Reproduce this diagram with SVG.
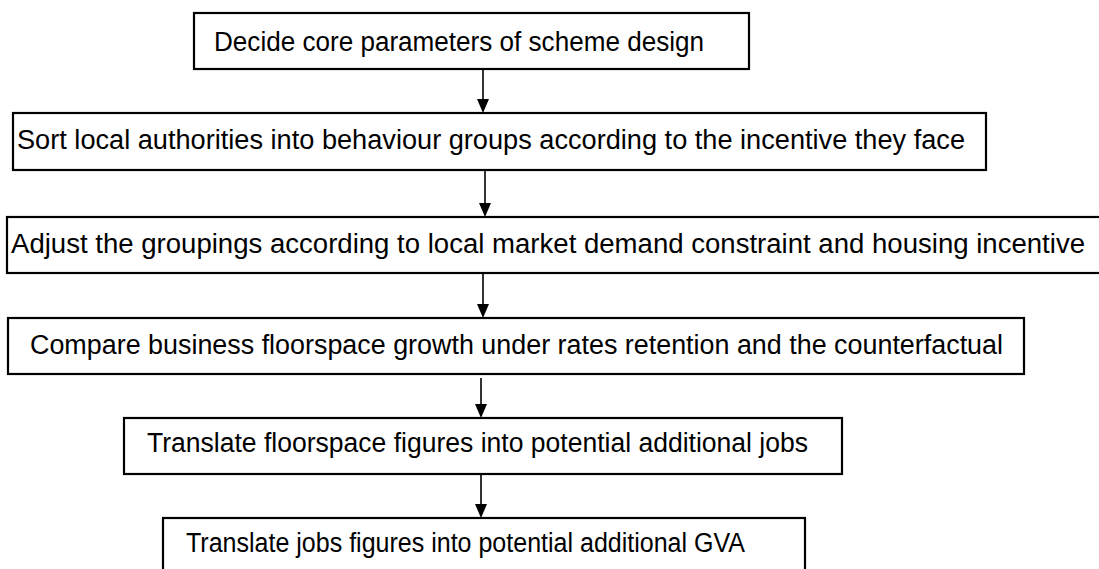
<svg xmlns="http://www.w3.org/2000/svg" width="1099" height="569" viewBox="0 0 1099 569">
  <style>
    .box { fill: #ffffff; stroke: #000000; stroke-width: 2.2; }
    .label { font-family: "Liberation Sans", Arial, sans-serif; font-size: 27px; fill: #000000; }
    .edge { stroke: #000000; stroke-width: 1.6; fill: none; }
    .head { fill: #000000; }
  </style>
  <rect width="1099" height="569" fill="#ffffff"/>

  <!-- connectors: vertical shafts with filled triangular heads -->
  <g id="connectors">
    <line class="edge" x1="483" y1="70" x2="483" y2="99"/>
    <polygon class="head" points="477,99 489,99 483,113"/>
    <line class="edge" x1="485" y1="171" x2="485" y2="203"/>
    <polygon class="head" points="479,203 491,203 485,217"/>
    <line class="edge" x1="483" y1="274" x2="483" y2="304"/>
    <polygon class="head" points="477,304 489,304 483,318"/>
    <line class="edge" x1="481" y1="378" x2="481" y2="404"/>
    <polygon class="head" points="475,404 487,404 481,418"/>
    <line class="edge" x1="481" y1="475" x2="481" y2="504"/>
    <polygon class="head" points="475,504 487,504 481,518"/>
  </g>

  <g id="node-core-parameters">
    <rect class="box" x="194" y="13" width="555" height="56"/>
    <text class="label" x="214" y="51" textLength="490" lengthAdjust="spacingAndGlyphs">Decide core parameters of scheme design</text>
  </g>

  <g id="node-behaviour-groups">
    <rect class="box" x="13" y="113" width="973" height="57"/>
    <text class="label" x="17" y="149" textLength="948" lengthAdjust="spacingAndGlyphs">Sort local authorities into behaviour groups according to the incentive they face</text>
  </g>

  <g id="node-adjust-groupings">
    <rect class="box" x="7" y="217" width="1100" height="56"/>
    <text class="label" x="11" y="253" textLength="1074" lengthAdjust="spacingAndGlyphs">Adjust the groupings according to local market demand constraint and housing incentive</text>
  </g>

  <g id="node-compare-floorspace">
    <rect class="box" x="8" y="318" width="1016" height="56"/>
    <text class="label" x="30" y="354" textLength="973" lengthAdjust="spacingAndGlyphs">Compare business floorspace growth under rates retention and the counterfactual</text>
  </g>

  <g id="node-jobs">
    <rect class="box" x="124" y="418" width="718" height="56"/>
    <text class="label" x="147" y="452" textLength="661" lengthAdjust="spacingAndGlyphs">Translate floorspace figures into potential additional jobs</text>
  </g>

  <g id="node-gva">
    <rect class="box" x="163" y="518" width="642" height="60"/>
    <text class="label" x="186" y="552" textLength="559" lengthAdjust="spacingAndGlyphs">Translate jobs figures into potential additional GVA</text>
  </g>
</svg>
